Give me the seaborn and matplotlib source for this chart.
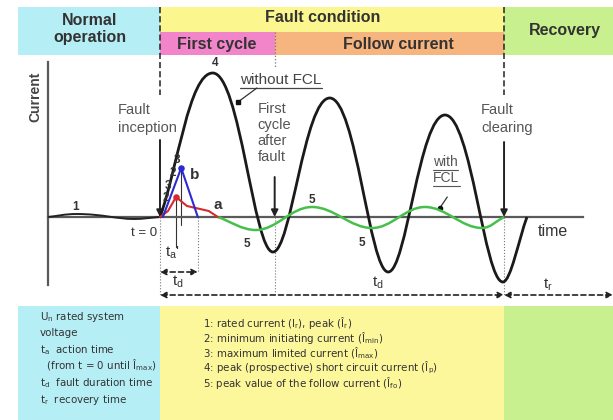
import matplotlib.pyplot as plt
import seaborn as sns
from matplotlib.path import Path
from matplotlib.patches import PathPatch, Rectangle

# time in ms (t = 0 is fault inception), current in arbitrary units
phase_edges = [-24.8, 0, 20, 60, 79.0]   # normal | first cycle | follow current | recovery
t_clear = 60

# 1: rated current during normal operation
normal_t = [-19.5, -14.5, -4.5, 0]
normal_i = [0, 0.3, -0.2, 0]

# prospective current without FCL (black)
nofcl_t = [0, 9.2, 19.7, 29.6, 39.8, 49.7, 59.8, 64.0]
nofcl_i = [0, 14.4, -3.5, 11.9, -5.5, 10.2, -6.5, 0]

# limited current, case a (red) and case b (blue)
lim_a_t = [0, 1.4, 2.8, 4.7, 7.0, 8.5, 10.1]
lim_a_i = [0, 0.6, 2.0, 1.1, 0.8, 0.6, 0]
lim_b_t = [0.5, 3.7, 6.6]
lim_b_i = [0, 4.9, 0]

# follow current with FCL (green)
follow_t = [10.1, 16.7, 26.5, 37.0, 46.2, 56.2, 60.0]
follow_i = [0, -1.3, 1.0, -1.1, 1.0, -1.1, 0]

legend_left = [r"U$\mathregular{_n}$ rated system", "voltage",
               r"t$\mathregular{_a}$  action time",
               r"  (from t = 0 until Î$\mathregular{_{max}}$)",
               r"t$\mathregular{_d}$  fault duration time",
               r"t$\mathregular{_r}$  recovery time"]
legend_mid = [r"1: rated current (I$\mathregular{_r}$), peak (Î$\mathregular{_r}$)",
              r"2: minimum initiating current (Î$\mathregular{_{min}}$)",
              r"3: maximum limited current (Î$\mathregular{_{max}}$)",
              r"4: peak (prospective) short circuit current (Î$\mathregular{_p}$)",
              r"5: peak value of the follow current (Î$\mathregular{_{fo}}$)"]


def wave_path(t, v, k_top=0.45, k_low=0.32):
    # cubic bezier through the extrema, flat tangents at peaks/troughs
    verts = [(t[0], v[0])]
    n = len(t)
    for j in range(n - 1):
        t0, v0, t1, v1 = t[j], v[j], t[j + 1], v[j + 1]
        dt = t1 - t0
        if j == 0:
            c1 = (t0 + dt / 3, v0 + (v1 - v0) / 3)
        else:
            c1 = (t0 + (k_top if v0 > v1 else k_low) * dt, v0)
        if j + 1 == n - 1:
            c2 = (t1 - dt / 3, v1 - (v1 - v0) / 3)
        else:
            c2 = (t1 - (k_top if v1 > v0 else k_low) * dt, v1)
        verts += [c1, c2, (t1, v1)]
    codes = [Path.MOVETO] + [Path.CURVE4] * (len(verts) - 1)
    return Path(verts, codes)


sns.set_theme(style="white")
plt.rcParams['font.family'] = ['Liberation Sans', 'DejaVu Sans']
plt.rcParams['mathtext.fontset'] = 'custom'
plt.rcParams['mathtext.rm'] = 'Liberation Sans'
plt.rcParams['mathtext.it'] = 'Liberation Sans:italic'

fig = plt.figure(figsize=(6.13, 4.2), dpi=100)
ax = fig.add_axes([0, 0, 1, 1])
ax.set_xlim(-27.9, 79.0)
ax.set_ylim(-20.3, 21.7)
ax.set_xticks([])
ax.set_yticks([])

# axes lines
for s in ['top', 'right']:
    ax.spines[s].set_visible(False)
ax.spines['left'].set_position(('data', -19.5))
ax.spines['left'].set_bounds(-6.8, 15.5)
ax.spines['bottom'].set_position(('data', 0))
ax.spines['bottom'].set_bounds(-19.5, 73.8)
for s in ['left', 'bottom']:
    ax.spines[s].set_color('#5a5a5a')
    ax.spines[s].set_linewidth(1.6)

# colour bands on top and bottom
c_cyan, c_yel, c_pink, c_orng, c_grn = '#b6eef6', '#fbf68e', '#f285c9', '#f6b47e', '#c8f08f'
top_lo, top_mid, top_hi = 16.2, 18.5, 21.0
bot_lo, bot_hi = -20.3, -8.9
e = phase_edges
bands = [(e[0], e[1], top_lo, top_hi, c_cyan), (e[1], e[3], top_mid, top_hi, c_yel),
         (e[1], e[2], top_lo, top_mid, c_pink), (e[2], e[3], top_lo, top_mid, c_orng),
         (e[3], e[4], top_lo, top_hi, c_grn),
         (e[0], e[1], bot_lo, bot_hi, c_cyan), (e[1], e[3], bot_lo, bot_hi, '#fdf79c'),
         (e[3], e[4], bot_lo, bot_hi, c_grn)]
for x0, x1, y0, y1, c in bands:
    ax.add_patch(Rectangle((x0, y0), x1 - x0, y1 - y0, color=c, lw=0, zorder=0))

tc = '#333333'
bold = dict(fontsize=11.5, fontweight='bold', color=tc, ha='center', va='center')
ax.text(-12.2, 18.8, "Normal\noperation", linespacing=1.2, **bold)
ax.text(28.3, 19.9, "Fault condition", **bold)
ax.text(9.9, 17.25, "First cycle", **bold)
ax.text(41.5, 17.25, "Follow current", **bold)
ax.text(70.6, 18.6, "Recovery", **bold)

# event markers
ax.plot([0, 0], [top_hi, 12.2], color='#222222', lw=1.1, ls=(0, (4, 2)))
ax.plot([t_clear, t_clear], [top_hi, 12.2], color='#222222', lw=1.1, ls=(0, (4, 2)))
ax.plot([20, 20], [top_mid, 14.9], color='#777777', lw=0.9, ls=':')
arrow = dict(arrowstyle='-|>', color='#222222', lw=1.4, mutation_scale=10, shrinkA=0, shrinkB=0)
ax.annotate('', xy=(0, 0), xytext=(0, 7.7), arrowprops=arrow)
ax.annotate('', xy=(20, 0), xytext=(20, 4.0), arrowprops=arrow)
ax.annotate('', xy=(t_clear, 0), xytext=(t_clear, 7.5), arrowprops=arrow)
for xv, yb in [(0, -7.8), (6.6, -5.5), (20, -7.8), (t_clear, -7.8)]:
    ax.plot([xv, xv], [0, yb], color='#777777', lw=0.8, ls=':')

an = dict(fontsize=10.5, color='#555555', ha='left', va='center')
ax.text(-7.4, 9.8, "Fault\ninception", linespacing=1.35, **an)
ax.text(17.0, 8.4, "First\ncycle\nafter\nfault", linespacing=1.2, **an)
ax.text(56.0, 9.8, "Fault\nclearing", linespacing=1.35, **an)
ax.text(-21.8, 12.0, "Current", rotation=90, fontsize=10, fontweight='bold',
        color='#444444', ha='center', va='center')
ax.text(68.5, -1.5, "time", fontsize=11.5, color=tc, ha='center', va='center')
ax.text(-0.5, -1.6, "t = 0", fontsize=9.5, color=tc, ha='right', va='center')

# curves
ax.add_patch(PathPatch(wave_path(normal_t, normal_i), fc='none', ec='#222222', lw=1.4, zorder=3))
ax.add_patch(PathPatch(wave_path(nofcl_t, nofcl_i), fc='none', ec='#1a1a1a', lw=2.0, zorder=3))
ax.add_patch(PathPatch(wave_path(follow_t, follow_i, 0.37, 0.37), fc='none',
                       ec='#45c04a', lw=1.8, zorder=3))
sns.lineplot(x=lim_a_t, y=lim_a_i, sort=False, estimator=None, color='#d62a2f', lw=1.5, ax=ax, zorder=4)
sns.lineplot(x=lim_b_t, y=lim_b_i, sort=False, estimator=None, color='#2b2bd0', lw=1.5, ax=ax, zorder=4)
sns.scatterplot(x=[lim_a_t[2]], y=[lim_a_i[2]], color='#d62a2f', s=22, ax=ax, zorder=5, linewidth=0)
sns.scatterplot(x=[lim_b_t[1]], y=[lim_b_i[1]], color='#2b2bd0', s=22, ax=ax, zorder=5, linewidth=0)

# t_a' marks
ax.plot([lim_a_t[2]] * 2, [lim_a_i[2], -3.0], color='#333333', lw=0.8)
ax.plot([lim_b_t[1]] * 2, [lim_b_i[1], -0.8], color='#333333', lw=0.8)

# curve labels
num = dict(fontsize=8.5, fontweight='bold', color=tc, ha='center', va='center')
for x, y, s in [(-14.8, 1.0, '1'), (1.0, 1.9, '2'), (1.4, 3.1, '3'), (2.3, 4.4, '2'),
                (3.0, 5.7, '3'), (9.6, 15.4, '4'), (26.5, 1.7, '5'), (15.2, -2.7, '5'),
                (35.2, -2.6, '5')]:
    ax.text(x, y, s, **num)
ax.text(6.1, 4.2, 'b', fontsize=11, fontweight='bold', color=tc, ha='center', va='center')
ax.text(10.1, 1.2, 'a', fontsize=11, fontweight='bold', color=tc, ha='center', va='center')

# "without FCL" / "with FCL" callouts
ax.text(14.0, 13.7, "without FCL", fontsize=11, color='#444444', ha='left', va='center')
ax.plot([14.0, 28.3], [12.95, 12.95], color='#444444', lw=0.9)
ax.plot([16.9, 13.6], [12.9, 11.5], color='#333333', lw=0.9)
ax.plot([13.6], [11.5], marker='s', ms=3, color='#111111')
ax.text(47.6, 5.5, "with", fontsize=10, color='#555555', ha='left', va='center')
ax.text(47.6, 3.9, "FCL", fontsize=10, color='#555555', ha='left', va='center')
ax.plot([47.6, 52.0], [4.7, 4.7], color='#555555', lw=0.8)
ax.plot([47.6, 52.4], [3.1, 3.1], color='#555555', lw=0.8)
ax.plot([50.1, 48.8], [2.0, 0.9], color='#333333', lw=0.9)
ax.plot([48.8], [0.9], marker='o', ms=3, color='#111111')

# duration arrows
darr = dict(arrowstyle='<|-|>', color='#222222', lw=1.2, ls=(0, (3, 2)),
            mutation_scale=9, shrinkA=0, shrinkB=0)
ax.annotate('', xy=(6.6, -5.5), xytext=(0, -5.5), arrowprops=darr)
ax.annotate('', xy=(t_clear, -7.8), xytext=(0, -7.8), arrowprops=darr)
ax.annotate('', xy=(e[4], -7.8), xytext=(t_clear, -7.8), arrowprops=darr)
lab = dict(fontsize=11, color=tc, ha='center', va='center')
ax.text(2.1, -3.6, r"t$\mathregular{_a}$'", **lab)
ax.text(3.1, -6.5, r"t$\mathregular{_d}$", **lab)
ax.text(38.0, -6.6, r"t$\mathregular{_d}$", **lab)
ax.text(67.7, -6.8, r"t$\mathregular{_r}$", **lab)

# legend text at the bottom
leg = dict(fontsize=7.4, color=tc, ha='left', va='center', family=['DejaVu Sans'])
for s, y in zip(legend_left, [-10.0, -11.6, -13.3, -14.8, -16.6, -18.3]):
    ax.text(-20.9, y, s, **leg)
for k, s in enumerate(legend_mid):
    ax.text(7.5, -10.6 - 1.5 * k, s, **leg)

fig.savefig('out.png', dpi=100)
